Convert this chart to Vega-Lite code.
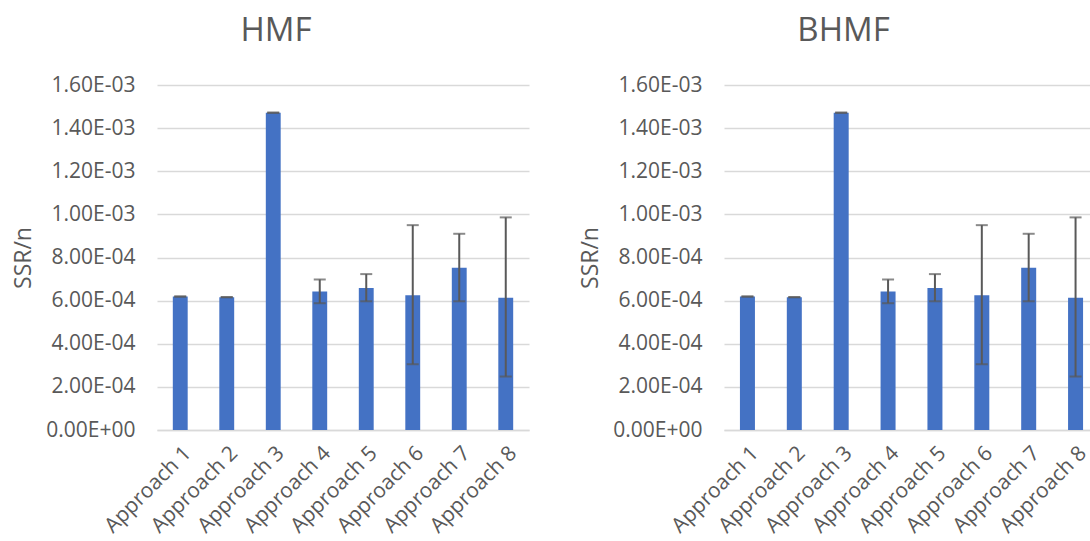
{
  "$schema": "https://vega.github.io/schema/vega-lite/v6.json",
  "background": "white",
  "padding": {"left": 12, "top": 15, "right": 0, "bottom": 0},
  "config": {
    "font": "Open Sans",
    "view": {"stroke": null},
    "concat": {"spacing": 50},
    "title": {"fontSize": 33, "fontWeight": "normal", "color": "#595959", "font": "Open Sans", "offset": 26}
  },
  "data": {
    "values": [
      {"panel": "HMF", "approach": "Approach 1", "value": 0.000619, "lo": 0.000619, "hi": 0.000619},
      {"panel": "HMF", "approach": "Approach 2", "value": 0.000616, "lo": 0.000616, "hi": 0.000616},
      {"panel": "HMF", "approach": "Approach 3", "value": 0.0014716, "lo": 0.0014716, "hi": 0.0014716},
      {"panel": "HMF", "approach": "Approach 4", "value": 0.000642, "lo": 0.000588, "hi": 0.000698},
      {"panel": "HMF", "approach": "Approach 5", "value": 0.000658, "lo": 0.000597, "hi": 0.000723},
      {"panel": "HMF", "approach": "Approach 6", "value": 0.000625, "lo": 0.000305, "hi": 0.00095},
      {"panel": "HMF", "approach": "Approach 7", "value": 0.000752, "lo": 0.000597, "hi": 0.00091},
      {"panel": "HMF", "approach": "Approach 8", "value": 0.000613, "lo": 0.000248, "hi": 0.000986},
      {"panel": "BHMF", "approach": "Approach 1", "value": 0.000619, "lo": 0.000619, "hi": 0.000619},
      {"panel": "BHMF", "approach": "Approach 2", "value": 0.000616, "lo": 0.000616, "hi": 0.000616},
      {"panel": "BHMF", "approach": "Approach 3", "value": 0.0014716, "lo": 0.0014716, "hi": 0.0014716},
      {"panel": "BHMF", "approach": "Approach 4", "value": 0.000642, "lo": 0.000588, "hi": 0.000698},
      {"panel": "BHMF", "approach": "Approach 5", "value": 0.000658, "lo": 0.000597, "hi": 0.000723},
      {"panel": "BHMF", "approach": "Approach 6", "value": 0.000625, "lo": 0.000305, "hi": 0.00095},
      {"panel": "BHMF", "approach": "Approach 7", "value": 0.000752, "lo": 0.000597, "hi": 0.00091},
      {"panel": "BHMF", "approach": "Approach 8", "value": 0.000613, "lo": 0.000248, "hi": 0.000986}
    ]
  },
  "hconcat": [
    {
      "title": {"text": "HMF", "dx": -67},
      "width": 372,
      "height": 345,
      "transform": [{"filter": "datum.panel == 'HMF'"}],
      "encoding": {
        "x": {
          "field": "approach", "type": "nominal", "title": null,
          "scale": {"paddingInner": 0.68, "paddingOuter": 0.34},
          "axis": {"labelAngle": -45, "labelFontSize": 21, "labelColor": "#595959", "ticks": false, "labelPadding": 12, "domainColor": "#d9d9d9", "domainWidth": 1.5}
        }
      },
      "layer": [
        {
          "mark": {"type": "bar", "color": "#4472C4"},
          "encoding": {
            "y": {
              "field": "value", "type": "quantitative", "title": "SSR/n",
              "scale": {"domain": [0, 0.0016]},
              "axis": {
                "values": [0, 0.0002, 0.0004, 0.0006, 0.0008, 0.001, 0.0012, 0.0014, 0.0016],
                "labelExpr": "replace(replace(format(datum.value, '.2e'), 'e-', 'E-0'), 'e+', 'E+0')",
                "labelFontSize": 21, "labelColor": "#595959", "ticks": false, "domain": false,
                "labelPadding": 22, "gridColor": "#d9d9d9", "gridWidth": 1.5,
                "titleFontSize": 23, "titleFontWeight": "normal", "titleColor": "#595959", "titlePadding": 10
              }
            }
          }
        },
        {
          "mark": {"type": "rule", "color": "#595959", "strokeWidth": 2},
          "encoding": {"y": {"field": "lo", "type": "quantitative", "title": "SSR/n"}, "y2": {"field": "hi"}}
        },
        {
          "mark": {"type": "tick", "color": "#595959", "thickness": 2, "size": 12},
          "encoding": {"y": {"field": "lo", "type": "quantitative", "title": "SSR/n"}}
        },
        {
          "mark": {"type": "tick", "color": "#595959", "thickness": 2, "size": 12},
          "encoding": {"y": {"field": "hi", "type": "quantitative", "title": "SSR/n"}}
        }
      ]
    },
    {
      "title": {"text": "BHMF", "dx": -68},
      "width": 375,
      "height": 345,
      "transform": [{"filter": "datum.panel == 'BHMF'"}],
      "encoding": {
        "x": {
          "field": "approach", "type": "nominal", "title": null,
          "scale": {"paddingInner": 0.68, "paddingOuter": 0.34},
          "axis": {"labelAngle": -45, "labelFontSize": 21, "labelColor": "#595959", "ticks": false, "labelPadding": 12, "domainColor": "#d9d9d9", "domainWidth": 1.5}
        }
      },
      "layer": [
        {
          "mark": {"type": "bar", "color": "#4472C4"},
          "encoding": {
            "y": {
              "field": "value", "type": "quantitative", "title": "SSR/n",
              "scale": {"domain": [0, 0.0016]},
              "axis": {
                "values": [0, 0.0002, 0.0004, 0.0006, 0.0008, 0.001, 0.0012, 0.0014, 0.0016],
                "labelExpr": "replace(replace(format(datum.value, '.2e'), 'e-', 'E-0'), 'e+', 'E+0')",
                "labelFontSize": 21, "labelColor": "#595959", "ticks": false, "domain": false,
                "labelPadding": 22, "gridColor": "#d9d9d9", "gridWidth": 1.5,
                "titleFontSize": 23, "titleFontWeight": "normal", "titleColor": "#595959", "titlePadding": 10
              }
            }
          }
        },
        {
          "mark": {"type": "rule", "color": "#595959", "strokeWidth": 2},
          "encoding": {"y": {"field": "lo", "type": "quantitative", "title": "SSR/n"}, "y2": {"field": "hi"}}
        },
        {
          "mark": {"type": "tick", "color": "#595959", "thickness": 2, "size": 12},
          "encoding": {"y": {"field": "lo", "type": "quantitative", "title": "SSR/n"}}
        },
        {
          "mark": {"type": "tick", "color": "#595959", "thickness": 2, "size": 12},
          "encoding": {"y": {"field": "hi", "type": "quantitative", "title": "SSR/n"}}
        }
      ]
    }
  ]
}
